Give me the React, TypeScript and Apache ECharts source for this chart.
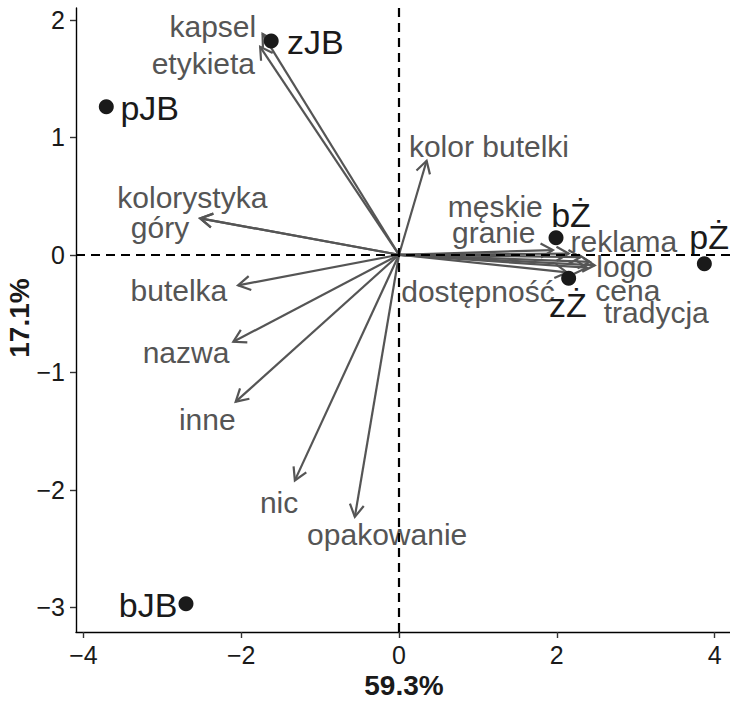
import React, { useEffect, useRef } from "react";
import * as echarts from "echarts";

// Observations (scores)
const pointNames = ["zJB", "pJB", "bJB", "bŻ", "pŻ", "zŻ"];
const pointX = [-1.62, -3.71, -2.7, 1.99, 3.87, 2.15];
const pointY = [1.82, 1.26, -2.97, 0.145, -0.077, -0.2];
const pointLabelX = [-1.06, -3.16, -3.18, 2.18, 3.93, 2.14];
const pointLabelY = [1.81, 1.25, -2.98, 0.34, 0.15, -0.43];

// Variables (loadings)
const varNames = [
  "kapsel", "etykieta", "kolor butelki", "kolorystyka", "góry", "butelka", "nazwa", "inne",
  "nic", "opakowanie", "męskie", "granie", "reklama", "logo", "dostępność", "cena", "tradycja",
];
const arrowX = [-1.73, -1.76, 0.35, -2.52, -2.52, -2.04, -2.1, -2.07, -1.32, -0.56, 1.95, 2.15, 2.3, 2.48, 2.13, 2.42, 2.38];
const arrowY = [1.88, 1.77, 0.8, 0.31, 0.31, -0.26, -0.74, -1.25, -1.92, -2.23, 0.04, 0.01, -0.02, -0.09, -0.15, -0.06, -0.11];
const varLabelX = [-2.36, -2.48, 1.14, -2.62, -3.03, -2.79, -2.7, -2.43, -1.52, -0.15, 1.22, 1.2, 2.85, 2.86, 1.0, 2.9, 3.26];
const varLabelY = [1.94, 1.63, 0.92, 0.485, 0.23, -0.3, -0.83, -1.4, -2.11, -2.38, 0.41, 0.19, 0.11, -0.1, -0.31, -0.3, -0.49];

const xTicks = [-4, -2, 0, 2, 4];
const yTicks = [-3, -2, -1, 0, 1, 2];
const xTitle = "59.3%";
const yTitle = "17.1%";

const fmt = (v: number) => (v < 0 ? "\u2212" + Math.abs(v) : String(v));
const FONT = "Liberation Sans, Arial, sans-serif";

export default function App() {
  const ref = useRef<HTMLDivElement>(null);
  useEffect(() => {
    if (!ref.current) return;
    const chart = echarts.init(ref.current, undefined, { renderer: "svg" });
    const axisCommon = {
      axisLine: { show: true, onZero: false, lineStyle: { color: "#000", width: 1.4 } },
      axisTick: { show: true, length: 6, lineStyle: { color: "#333", width: 1.4 } },
      splitLine: { show: false },
      axisLabel: { color: "#1a1a1a", fontSize: 25, fontFamily: FONT, formatter: (v: number) => fmt(v) },
    };
    chart.setOption({
      animation: false,
      grid: { left: 76, right: 0, top: 8, bottom: 70 },
      xAxis: {
        type: "value",
        min: -4.094,
        max: 4.195,
        ...axisCommon,
        axisTick: { ...axisCommon.axisTick, customValues: xTicks },
        axisLabel: { ...axisCommon.axisLabel, customValues: xTicks, margin: 10 },
      },
      yAxis: {
        type: "value",
        min: -3.21,
        max: 2.1,
        ...axisCommon,
        axisTick: { ...axisCommon.axisTick, customValues: yTicks },
        axisLabel: { ...axisCommon.axisLabel, customValues: yTicks, margin: 11 },
      },
      graphic: [
        {
          type: "text",
          x: 404,
          y: 685,
          style: { text: xTitle, fontSize: 28, fontWeight: "bold", fontFamily: FONT, fill: "#1a1a1a", align: "center", verticalAlign: "middle" },
        },
        {
          type: "text",
          x: 19,
          y: 318,
          rotation: Math.PI / 2,
          style: { text: yTitle, fontSize: 28, fontWeight: "bold", fontFamily: FONT, fill: "#1a1a1a", align: "center", verticalAlign: "middle" },
        },
      ],
      series: [
        {
          type: "scatter",
          data: [],
          markLine: {
            silent: true,
            symbol: "none",
            label: { show: false },
            lineStyle: { color: "#000", width: 2.2, type: [9, 6] },
            data: [{ xAxis: 0 }, { yAxis: 0 }],
          },
        },
        {
          type: "custom",
          data: arrowX.map((x, i) => [x, arrowY[i]]),
          renderItem: (params: any, api: any) => {
            const o = api.coord([0, 0]);
            const t = api.coord([api.value(0), api.value(1)]);
            const ang = Math.atan2(t[1] - o[1], t[0] - o[0]);
            const L = 14;
            const a = Math.PI / 6;
            const p1 = [t[0] - L * Math.cos(ang - a), t[1] - L * Math.sin(ang - a)];
            const p2 = [t[0] - L * Math.cos(ang + a), t[1] - L * Math.sin(ang + a)];
            return {
              type: "group",
              children: [
                { type: "line", shape: { x1: o[0], y1: o[1], x2: t[0], y2: t[1] }, style: { stroke: "#555", lineWidth: 2.2 } },
                { type: "polyline", shape: { points: [p1, t, p2] }, style: { stroke: "#555", lineWidth: 2.2, fill: null } },
              ],
            };
          },
        },
        {
          type: "scatter",
          symbol: "circle",
          symbolSize: 15,
          itemStyle: { color: "#1a1a1a", opacity: 1 },
          data: pointX.map((x, i) => [x, pointY[i]]),
        },
        {
          type: "custom",
          data: varLabelX.map((x, i) => [x, varLabelY[i]]),
          renderItem: (params: any, api: any) => {
            const p = api.coord([api.value(0), api.value(1)]);
            return {
              type: "text",
              x: p[0],
              y: p[1],
              style: { text: varNames[params.dataIndex], fontSize: 30, fontFamily: FONT, fill: "#555", align: "center", verticalAlign: "middle" },
            };
          },
        },
        {
          type: "custom",
          data: pointLabelX.map((x, i) => [x, pointLabelY[i]]),
          renderItem: (params: any, api: any) => {
            const p = api.coord([api.value(0), api.value(1)]);
            return {
              type: "text",
              x: p[0],
              y: p[1],
              style: { text: pointNames[params.dataIndex], fontSize: 34, fontFamily: FONT, fill: "#1a1a1a", align: "center", verticalAlign: "middle" },
            };
          },
        },
      ],
    });
    return () => chart.dispose();
  }, []);
  return <div ref={ref} style={{ position: "fixed", left: 0, top: 0, width: 730, height: 702, background: "#fff" }} />;
}
